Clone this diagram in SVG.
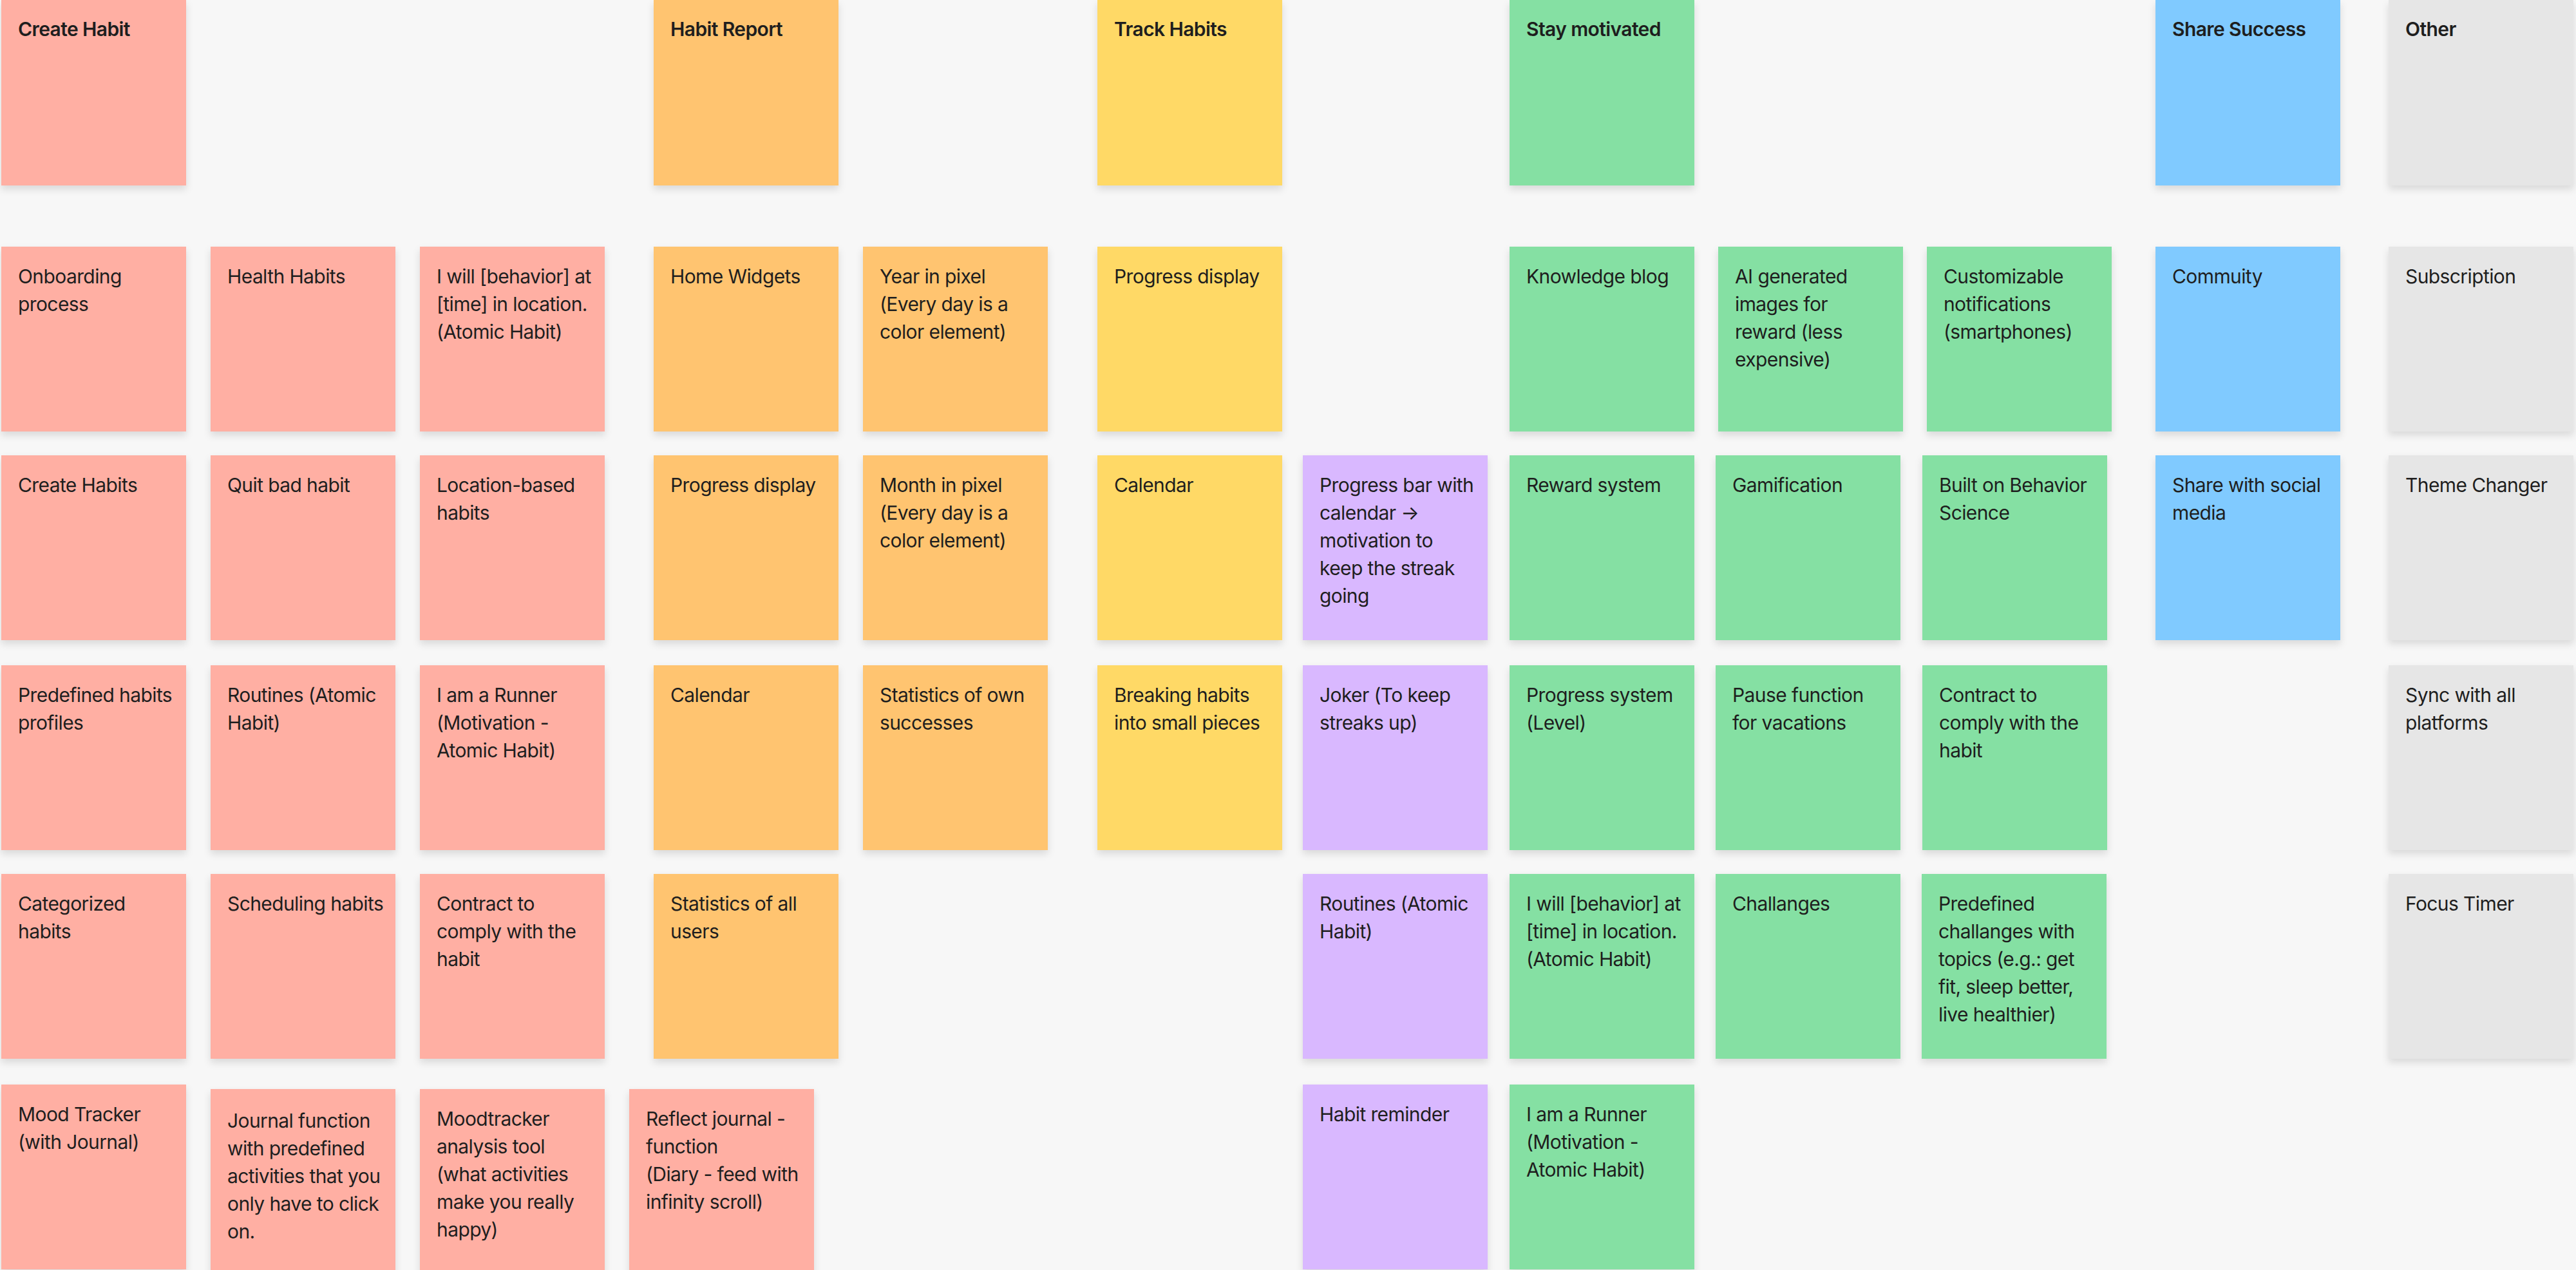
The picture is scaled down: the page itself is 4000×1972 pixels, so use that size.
<svg xmlns="http://www.w3.org/2000/svg" width="4000" height="1972" viewBox="0 0 4000 1972">
<defs>
<filter id="sh" x="-10%" y="-10%" width="120%" height="130%"><feDropShadow dx="0" dy="6" stdDeviation="6" flood-color="#000" flood-opacity="0.12"/></filter>
</defs>
<style>
rect{filter:url(#sh)}
.r{fill:#FFAFA3}.o{fill:#FFC470}.y{fill:#FFD966}.g{fill:#85E0A3}.b{fill:#80CAFF}.x{fill:#E6E6E6}.p{fill:#D9B8FF}
text{font-family:Inter,"Noto Sans","Liberation Sans",sans-serif;font-size:30px;letter-spacing:-0.6px;fill:#1e1e1e}
.t{font-weight:600}
</style>
<rect x="0" y="0" width="4000" height="1972" fill="#F7F7F7" style="filter:none"/>
<g id="connectors"/>
<g id="n-create-habit"><rect class="r" x="2" y="0" width="287" height="288"/><text class="t" x="28" y="56">Create Habit</text></g>
<g id="n-habit-report"><rect class="o" x="1015" y="0" width="287" height="288"/><text class="t" x="1041" y="56">Habit Report</text></g>
<g id="n-track-habits"><rect class="y" x="1704" y="0" width="287" height="288"/><text class="t" x="1730" y="56">Track Habits</text></g>
<g id="n-stay-motivated"><rect class="g" x="2344" y="0" width="287" height="288"/><text class="t" x="2370" y="56">Stay motivated</text></g>
<g id="n-share-success"><rect class="b" x="3347" y="0" width="287" height="288"/><text class="t" x="3373" y="56">Share Success</text></g>
<g id="n-other"><rect class="x" x="3709" y="0" width="287" height="288"/><text class="t" x="3735" y="56">Other</text></g>

<g id="n-onboarding"><rect class="r" x="2" y="383" width="287" height="287"/><text x="28" y="440"><tspan x="28">Onboarding</tspan><tspan x="28" dy="43">process</tspan></text></g>
<g id="n-health"><rect class="r" x="327" y="383" width="287" height="287"/><text x="353" y="440">Health Habits</text></g>
<g id="n-iwill1"><rect class="r" x="652" y="383" width="287" height="287"/><text x="678" y="440"><tspan x="678">I will [behavior] at</tspan><tspan x="678" dy="43">[time] in location.</tspan><tspan x="678" dy="43">(Atomic Habit)</tspan></text></g>
<g id="n-widgets"><rect class="o" x="1015" y="383" width="287" height="287"/><text x="1041" y="440">Home Widgets</text></g>
<g id="n-year"><rect class="o" x="1340" y="383" width="287" height="287"/><text x="1366" y="440"><tspan x="1366">Year in pixel</tspan><tspan x="1366" dy="43">(Every day is a</tspan><tspan x="1366" dy="43">color element)</tspan></text></g>
<g id="n-progress-display-t"><rect class="y" x="1704" y="383" width="287" height="287"/><text x="1730" y="440">Progress display</text></g>
<g id="n-blog"><rect class="g" x="2344" y="383" width="287" height="287"/><text x="2370" y="440">Knowledge blog</text></g>
<g id="n-ai"><rect class="g" x="2668" y="383" width="287" height="287"/><text x="2694" y="440"><tspan x="2694">AI generated</tspan><tspan x="2694" dy="43">images for</tspan><tspan x="2694" dy="43">reward (less</tspan><tspan x="2694" dy="43">expensive)</tspan></text></g>
<g id="n-notif"><rect class="g" x="2992" y="383" width="287" height="287"/><text x="3018" y="440"><tspan x="3018">Customizable</tspan><tspan x="3018" dy="43">notifications</tspan><tspan x="3018" dy="43">(smartphones)</tspan></text></g>
<g id="n-commuity"><rect class="b" x="3347" y="383" width="287" height="287"/><text x="3373" y="440">Commuity</text></g>
<g id="n-subscription"><rect class="x" x="3709" y="383" width="287" height="287"/><text x="3735" y="440">Subscription</text></g>

<g id="n-create-habits"><rect class="r" x="2" y="707" width="287" height="287"/><text x="28" y="764">Create Habits</text></g>
<g id="n-quit"><rect class="r" x="327" y="707" width="287" height="287"/><text x="353" y="764">Quit bad habit</text></g>
<g id="n-location"><rect class="r" x="652" y="707" width="287" height="287"/><text x="678" y="764"><tspan x="678">Location-based</tspan><tspan x="678" dy="43">habits</tspan></text></g>
<g id="n-progress-display-o"><rect class="o" x="1015" y="707" width="287" height="287"/><text x="1041" y="764">Progress display</text></g>
<g id="n-month"><rect class="o" x="1340" y="707" width="287" height="287"/><text x="1366" y="764"><tspan x="1366">Month in pixel</tspan><tspan x="1366" dy="43">(Every day is a</tspan><tspan x="1366" dy="43">color element)</tspan></text></g>
<g id="n-calendar-t"><rect class="y" x="1704" y="707" width="287" height="287"/><text x="1730" y="764">Calendar</text></g>
<g id="n-progressbar"><rect class="p" x="2023" y="707" width="287" height="287"/><text x="2049" y="764"><tspan x="2049">Progress bar with</tspan><tspan x="2049" dy="43">calendar →</tspan><tspan x="2049" dy="43">motivation to</tspan><tspan x="2049" dy="43">keep the streak</tspan><tspan x="2049" dy="43">going</tspan></text></g>
<g id="n-reward"><rect class="g" x="2344" y="707" width="287" height="287"/><text x="2370" y="764">Reward system</text></g>
<g id="n-gamification"><rect class="g" x="2664" y="707" width="287" height="287"/><text x="2690" y="764">Gamification</text></g>
<g id="n-behavior"><rect class="g" x="2985" y="707" width="287" height="287"/><text x="3011" y="764"><tspan x="3011">Built on Behavior</tspan><tspan x="3011" dy="43">Science</tspan></text></g>
<g id="n-social"><rect class="b" x="3347" y="707" width="287" height="287"/><text x="3373" y="764"><tspan x="3373">Share with social</tspan><tspan x="3373" dy="43">media</tspan></text></g>
<g id="n-theme"><rect class="x" x="3709" y="707" width="287" height="287"/><text x="3735" y="764">Theme Changer</text></g>

<g id="n-predefined"><rect class="r" x="2" y="1033" width="287" height="287"/><text x="28" y="1090"><tspan x="28">Predefined habits</tspan><tspan x="28" dy="43">profiles</tspan></text></g>
<g id="n-routines1"><rect class="r" x="327" y="1033" width="287" height="287"/><text x="353" y="1090"><tspan x="353">Routines (Atomic</tspan><tspan x="353" dy="43">Habit)</tspan></text></g>
<g id="n-runner1"><rect class="r" x="652" y="1033" width="287" height="287"/><text x="678" y="1090"><tspan x="678">I am a Runner</tspan><tspan x="678" dy="43">(Motivation -</tspan><tspan x="678" dy="43">Atomic Habit)</tspan></text></g>
<g id="n-calendar-o"><rect class="o" x="1015" y="1033" width="287" height="287"/><text x="1041" y="1090">Calendar</text></g>
<g id="n-stats-own"><rect class="o" x="1340" y="1033" width="287" height="287"/><text x="1366" y="1090"><tspan x="1366">Statistics of own</tspan><tspan x="1366" dy="43">successes</tspan></text></g>
<g id="n-breaking"><rect class="y" x="1704" y="1033" width="287" height="287"/><text x="1730" y="1090"><tspan x="1730">Breaking habits</tspan><tspan x="1730" dy="43">into small pieces</tspan></text></g>
<g id="n-joker"><rect class="p" x="2023" y="1033" width="287" height="287"/><text x="2049" y="1090"><tspan x="2049">Joker (To keep</tspan><tspan x="2049" dy="43">streaks up)</tspan></text></g>
<g id="n-level"><rect class="g" x="2344" y="1033" width="287" height="287"/><text x="2370" y="1090"><tspan x="2370">Progress system</tspan><tspan x="2370" dy="43">(Level)</tspan></text></g>
<g id="n-pause"><rect class="g" x="2664" y="1033" width="287" height="287"/><text x="2690" y="1090"><tspan x="2690">Pause function</tspan><tspan x="2690" dy="43">for vacations</tspan></text></g>
<g id="n-contract2"><rect class="g" x="2985" y="1033" width="287" height="287"/><text x="3011" y="1090"><tspan x="3011">Contract to</tspan><tspan x="3011" dy="43">comply with the</tspan><tspan x="3011" dy="43">habit</tspan></text></g>
<g id="n-sync"><rect class="x" x="3709" y="1033" width="287" height="287"/><text x="3735" y="1090"><tspan x="3735">Sync with all</tspan><tspan x="3735" dy="43">platforms</tspan></text></g>

<g id="n-categorized"><rect class="r" x="2" y="1357" width="287" height="287"/><text x="28" y="1414"><tspan x="28">Categorized</tspan><tspan x="28" dy="43">habits</tspan></text></g>
<g id="n-scheduling"><rect class="r" x="327" y="1357" width="287" height="287"/><text x="353" y="1414">Scheduling habits</text></g>
<g id="n-contract1"><rect class="r" x="652" y="1357" width="287" height="287"/><text x="678" y="1414"><tspan x="678">Contract to</tspan><tspan x="678" dy="43">comply with the</tspan><tspan x="678" dy="43">habit</tspan></text></g>
<g id="n-stats-all"><rect class="o" x="1015" y="1357" width="287" height="287"/><text x="1041" y="1414"><tspan x="1041">Statistics of all</tspan><tspan x="1041" dy="43">users</tspan></text></g>
<g id="n-routines2"><rect class="p" x="2023" y="1357" width="287" height="287"/><text x="2049" y="1414"><tspan x="2049">Routines (Atomic</tspan><tspan x="2049" dy="43">Habit)</tspan></text></g>
<g id="n-iwill2"><rect class="g" x="2344" y="1357" width="287" height="287"/><text x="2370" y="1414"><tspan x="2370">I will [behavior] at</tspan><tspan x="2370" dy="43">[time] in location.</tspan><tspan x="2370" dy="43">(Atomic Habit)</tspan></text></g>
<g id="n-challanges"><rect class="g" x="2664" y="1357" width="287" height="287"/><text x="2690" y="1414">Challanges</text></g>
<g id="n-predef-chal"><rect class="g" x="2984" y="1357" width="287" height="287"/><text x="3010" y="1414"><tspan x="3010">Predefined</tspan><tspan x="3010" dy="43">challanges with</tspan><tspan x="3010" dy="43">topics (e.g.: get</tspan><tspan x="3010" dy="43">fit, sleep better,</tspan><tspan x="3010" dy="43">live healthier)</tspan></text></g>
<g id="n-focus"><rect class="x" x="3709" y="1357" width="287" height="287"/><text x="3735" y="1414">Focus Timer</text></g>

<g id="n-mood"><rect class="r" x="2" y="1684" width="287" height="287"/><text x="28" y="1741"><tspan x="28">Mood Tracker</tspan><tspan x="28" dy="43">(with Journal)</tspan></text></g>
<g id="n-journal"><rect class="r" x="327" y="1691" width="287" height="287"/><text x="353" y="1751"><tspan x="353">Journal function</tspan><tspan x="353" dy="43">with predefined</tspan><tspan x="353" dy="43">activities that you</tspan><tspan x="353" dy="43">only have to click</tspan><tspan x="353" dy="43">on.</tspan></text></g>
<g id="n-moodtool"><rect class="r" x="652" y="1691" width="287" height="287"/><text x="678" y="1748"><tspan x="678">Moodtracker</tspan><tspan x="678" dy="43">analysis tool</tspan><tspan x="678" dy="43">(what activities</tspan><tspan x="678" dy="43">make you really</tspan><tspan x="678" dy="43">happy)</tspan></text></g>
<g id="n-reflect"><rect class="r" x="977" y="1691" width="287" height="287"/><text x="1003" y="1748"><tspan x="1003">Reflect journal -</tspan><tspan x="1003" dy="43">function</tspan><tspan x="1003" dy="43">(Diary - feed with</tspan><tspan x="1003" dy="43">infinity scroll)</tspan></text></g>
<g id="n-reminder"><rect class="p" x="2023" y="1684" width="287" height="287"/><text x="2049" y="1741">Habit reminder</text></g>
<g id="n-runner2"><rect class="g" x="2344" y="1684" width="287" height="287"/><text x="2370" y="1741"><tspan x="2370">I am a Runner</tspan><tspan x="2370" dy="43">(Motivation -</tspan><tspan x="2370" dy="43">Atomic Habit)</tspan></text></g>
</svg>
